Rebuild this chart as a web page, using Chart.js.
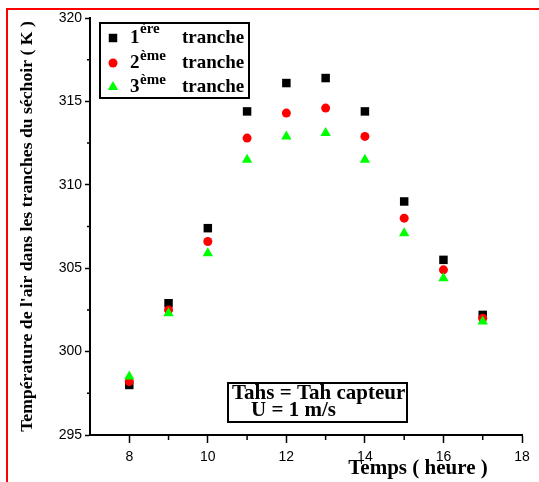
<!DOCTYPE html>
<html>
<head>
<meta charset="utf-8">
<script src="https://cdn.jsdelivr.net/npm/chart.js@4.4.0/dist/chart.umd.min.js"></script>
<style>
body { margin: 0; background: #fff; }
</style>
</head>
<body>
<canvas id="myChart" width="539" height="482"></canvas>
<script>
// heures de mesure
var heures = [8, 9, 10, 11, 12, 13, 14, 15, 16, 17];
// température de l'air (K) dans chaque tranche
var tranche1 = [298.0, 302.9, 307.4, 314.4, 316.1, 316.4, 314.4, 309.0, 305.5, 302.2];
var tranche2 = [298.2, 302.5, 306.6, 312.8, 314.3, 314.6, 312.9, 308.0, 304.9, 302.0];
var tranche3 = [298.5, 302.3, 305.9, 311.5, 312.9, 313.1, 311.5, 307.1, 304.4, 301.8];
// graduations
var xTicks = [8, 10, 12, 14, 16, 18];
var yTicks = [295, 300, 305, 310, 315, 320];
// légende : chiffre + exposant
var legendLabels = [['1', 'ère'], ['2', 'ème'], ['3', 'ème']];
var serif = '"Liberation Serif", "Times New Roman", serif';

function points(ys) {
    return heures.map(function (h, i) { return { x: h, y: ys[i] }; });
}

// cadre rouge, petites graduations, légende, encadré, titre X
var decor = {
    id: 'decor',
    beforeDraw: function (c) {
        var ctx = c.ctx;
        ctx.save();
        ctx.fillStyle = '#fff';
        ctx.fillRect(0, 0, c.width, c.height);
        ctx.fillStyle = '#ff0000';
        ctx.fillRect(6, 8, c.width - 6, 2);
        ctx.fillRect(6, 8, 2, c.height - 8);
        ctx.restore();
    },
    afterDraw: function (c) {
        var ctx = c.ctx, xs = c.scales.x, ys = c.scales.y, a = c.chartArea;
        ctx.save();
        ctx.strokeStyle = '#000';
        ctx.lineWidth = 1.5;
        ctx.beginPath();
        for (var v = 9; v < 18; v += 2) {
            var px = xs.getPixelForValue(v);
            ctx.moveTo(px, a.bottom);
            ctx.lineTo(px, a.bottom + 5);
        }
        for (var w = 297.5; w < 320; w += 5) {
            var py = ys.getPixelForValue(w);
            ctx.moveTo(a.left, py);
            ctx.lineTo(a.left - 3, py);
        }
        ctx.stroke();

        // légende
        ctx.lineWidth = 2;
        ctx.strokeRect(100, 23, 149, 75);
        var styles = [['rect', 6, '#000'], ['circle', 4.5, '#ff0000'], ['triangle', 6, '#00ff00']];
        var rowY = [43, 68, 92];
        for (var i = 0; i < 3; i++) {
            ctx.fillStyle = styles[i][2];
            Chart.helpers.drawPoint(ctx, { pointStyle: styles[i][0], radius: styles[i][1], rotation: 0, borderWidth: 0 }, 113, rowY[i] - 5);
            ctx.fillStyle = '#000';
            ctx.textBaseline = 'alphabetic';
            ctx.textAlign = 'left';
            ctx.font = 'bold 19px ' + serif;
            ctx.fillText(legendLabels[i][0], 130, rowY[i]);
            ctx.fillText('tranche', 182, rowY[i]);
            ctx.font = 'bold 15px ' + serif;
            ctx.fillText(legendLabels[i][1], 140, rowY[i] - (i === 0 ? 10 : 8));
        }

        // encadré
        ctx.strokeRect(228, 383, 179, 39);
        ctx.font = 'bold 21px ' + serif;
        ctx.fillText('Tahs = Tah capteur', 232, 399);
        ctx.fillText('U = 1 m/s', 251, 416);

        // titre de l'axe X
        ctx.textAlign = 'center';
        ctx.font = 'bold 21px ' + serif;
        ctx.fillText('Temps ( heure )', 418, 474);
        ctx.restore();
    }
};

var chart = document.querySelector('#myChart');
var myChart = new Chart(chart, {
    type: 'scatter',
    data: {
        datasets: [{
            label: '1ère tranche',
            data: points(tranche1),
            pointStyle: 'rect',
            pointRadius: 6,
            backgroundColor: '#000',
            borderWidth: 0,
            order: 3
        }, {
            label: '2ème tranche',
            data: points(tranche2),
            pointStyle: 'circle',
            pointRadius: 4.5,
            backgroundColor: '#ff0000',
            borderWidth: 0,
            order: 2
        }, {
            label: '3ème tranche',
            data: points(tranche3),
            pointStyle: 'triangle',
            pointRadius: 6,
            backgroundColor: '#00ff00',
            borderWidth: 0,
            order: 1
        }]
    },
    options: {
        responsive: false,
        animation: false,
        devicePixelRatio: 1,
        layout: { padding: { top: 18, right: 17, left: 0, bottom: 0 } },
        plugins: {
            legend: { display: false },
            tooltip: { enabled: false }
        },
        scales: {
            x: {
                type: 'linear',
                min: 7,
                max: 18,
                afterBuildTicks: function (s) { s.ticks = xTicks.map(function (v) { return { value: v }; }); },
                afterFit: function (s) { s.height = 47; },
                grid: { drawOnChartArea: false, tickLength: 8, tickWidth: 1.5, tickColor: '#000' },
                border: { color: '#000', width: 2 },
                ticks: { color: '#000', padding: 6, font: { family: '"Liberation Sans", Arial, sans-serif', size: 14 } }
            },
            y: {
                min: 295,
                max: 320,
                afterBuildTicks: function (s) { s.ticks = yTicks.map(function (v) { return { value: v }; }); },
                afterFit: function (s) { s.width = 90; },
                grid: { drawOnChartArea: false, tickLength: 5, tickWidth: 1.5, tickColor: '#000' },
                border: { color: '#000', width: 2 },
                ticks: { color: '#000', padding: 3, font: { family: '"Liberation Sans", Arial, sans-serif', size: 14 } },
                title: {
                    display: true,
                    text: "Température de l'air dans les tranches du séchoir ( K )",
                    color: '#000',
                    font: { family: serif, size: 17.7, weight: 'bold' },
                    padding: { top: 17, bottom: 0 }
                }
            }
        }
    },
    plugins: [decor]
});
</script>
</body>
</html>
